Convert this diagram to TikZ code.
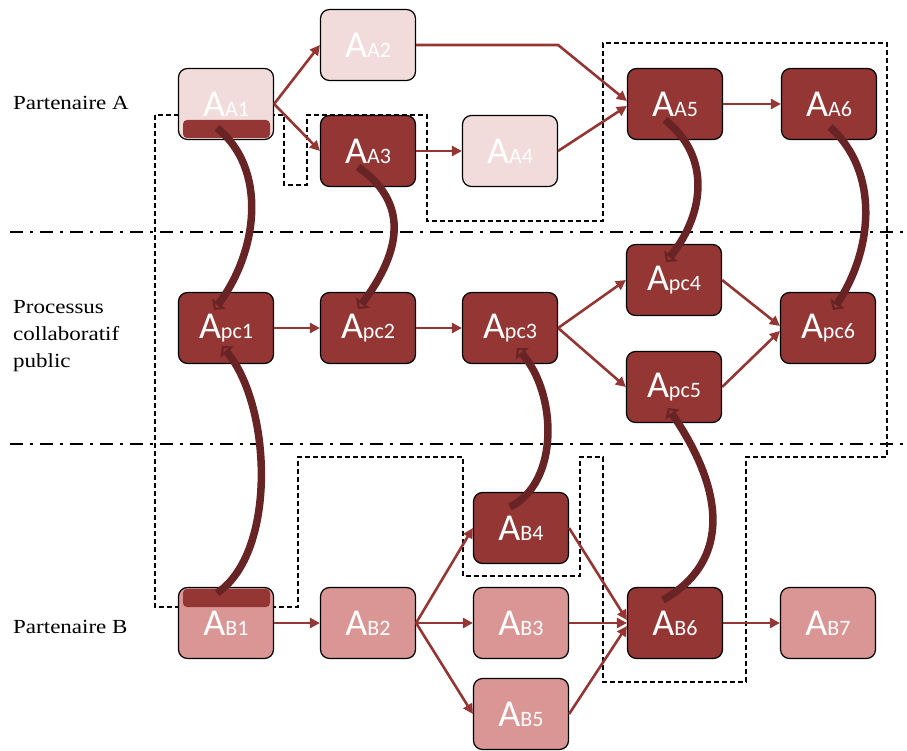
\documentclass[tikz,border=0pt]{standalone}
\usepackage{fontspec}
\setmainfont{Liberation Serif}
\newfontfamily\lanefont[FakeStretch=1.15]{Liberation Serif}
\newfontfamily\actfont{Carlito}
\usepackage{tikz}
\usetikzlibrary{arrows.meta}

\definecolor{actdark}{HTML}{943634}
\definecolor{actpale}{HTML}{F2DCDB}
\definecolor{actmid}{HTML}{D99694}
\definecolor{linkdark}{HTML}{682424}

\begin{document}
\begin{tikzpicture}[x=1pt,y=-1pt,
        act/.style={draw=black, line width=1.2pt, rounded corners=9pt, minimum width=95pt, minimum height=71pt, inner sep=0pt, text=white, font=\actfont},
        shared/.style={act, fill=actdark},
        privA/.style={act, fill=actpale},
        privB/.style={act, fill=actmid},
        flow/.style={draw=actdark, line width=2.6pt, -{Triangle[length=10pt,width=10pt]}},
        xlink/.style={draw=linkdark, line width=7.5pt, -{Triangle[open,length=8pt,width=17pt,line width=2.5pt]}},
        lanesep/.style={line width=2.6pt, dash pattern=on 13pt off 7pt on 3pt off 7pt},
        zone/.style={line width=1.2pt, dash pattern=on 5pt off 3pt},
        lane/.style={font=\lanefont\fontsize{20}{27}\selectfont, align=left, inner sep=0pt}]
        \useasboundingbox (0,0) rectangle (907,751);

        \newcommand\Act[1]{{\fontsize{38}{38}\selectfont A}{\fontsize{22}{22}\selectfont #1}}

        \draw[zone] (155,115) -- (155,607) -- (298,607) -- (298,457) -- (463,457) -- (463,576) -- (580,576) -- (580,457) -- (603,457) -- (603,682) -- (746,682) -- (746,457) -- (887,457) -- (887,43) -- (603,43) -- (603,221) -- (427,221) -- (427,115) -- (307,115) -- (307,185) -- (284,185) -- (284,115) -- cycle;

        \draw[lanesep] (10,232) -- (907,232);
        \draw[lanesep] (10,444) -- (907,444);

        \node[lane, anchor=base west] (la) at (13,110) {Partenaire A};
        \node[lane, anchor=west] (lpc) at (13,336) {Processus\\collaboratif\\public};
        \node[lane, anchor=base west] (lb) at (13,633) {Partenaire B};

        \node[privA] (a1) at (226,104) {\Act{A1}};
        \node[privA] (a2) at (368,45) {\Act{A2}};
        \node[shared] (a3) at (368,151) {\Act{A3}};
        \node[privA] (a4) at (510,151) {\Act{A4}};
        \node[shared] (a5) at (675,104) {\Act{A5}};
        \node[shared] (a6) at (829,104) {\Act{A6}};

        \node[shared] (pc1) at (226,328) {\Act{pc1}};
        \node[shared] (pc2) at (368,328) {\Act{pc2}};
        \node[shared] (pc3) at (510,328) {\Act{pc3}};
        \node[shared] (pc4) at (674,280) {\Act{pc4}};
        \node[shared] (pc5) at (674,387) {\Act{pc5}};
        \node[shared] (pc6) at (828,328) {\Act{pc6}};

        \node[privB] (b1) at (226,623) {\Act{B1}};
        \node[privB] (b2) at (368,623) {\Act{B2}};
        \node[privB] (b3) at (521,623) {\Act{B3}};
        \node[shared] (b4) at (521,528) {\Act{B4}};
        \node[privB] (b5) at (521,714) {\Act{B5}};
        \node[shared] (b6) at (675,623) {\Act{B6}};
        \node[privB] (b7) at (828,623) {\Act{B7}};

        \fill[actdark, rounded corners=4pt] (183,120) rectangle (270,138);
        \fill[actdark, rounded corners=4pt] (183,589) rectangle (270,607);

        \draw[flow] (a1.east) -- (a2.west);
        \draw[flow] (a1.east) -- (a3.west);
        \draw[flow] (a2.east) -- (a2.east -| a4.east) -- ([yshift=3pt]a5.west);
        \draw[flow] (a3) -- (a4);
        \draw[flow] (a4.east) -- ([yshift=-2pt]a5.west);
        \draw[flow] (a5) -- (a6);
        \draw[flow] (pc1) -- (pc2);
        \draw[flow] (pc2) -- (pc3);
        \draw[flow] (pc3.east) -- (pc4.west);
        \draw[flow] (pc3.east) -- (pc5.west);
        \draw[flow] (pc4.east) -- ([yshift=2pt]pc6.west);
        \draw[flow] (pc5.east) -- ([yshift=-3pt]pc6.west);
        \draw[flow] (b1) -- (b2);
        \draw[flow] (b2.east) -- (b4.west);
        \draw[flow] (b2) -- (b3);
        \draw[flow] (b2.east) -- (b5.west);
        \draw[flow] (b4.east) -- ([yshift=3pt]b6.west);
        \draw[flow] (b3) -- (b6);
        \draw[flow] (b5.east) -- ([yshift=-3pt]b6.west);
        \draw[flow] (b6) -- (b7);

        \draw[xlink] ([shift={(-9,24)}]a1.center) .. controls +(50,40) and +(45,-60) .. ([shift={(-12,-18)}]pc1.center);
        \draw[xlink] ([shift={(-10,16)}]a3.center) .. controls +(50,35) and +(45,-60) .. ([shift={(-10,-19)}]pc2.center);
        \draw[xlink] ([shift={(-10,16)}]a5.center) .. controls +(45,35) and +(40,-50) .. ([shift={(-8,-18)}]pc4.center);
        \draw[xlink] ([shift={(1,23)}]a6.center) .. controls +(50,45) and +(40,-60) .. ([shift={(5,-18)}]pc6.center);
        \draw[xlink] ([shift={(-9,-30)}]b1.center) .. controls +(60,-40) and +(50,60) .. ([shift={(-4,18)}]pc1.center);
        \draw[xlink] ([shift={(-11,-21)}]b4.center) .. controls +(50,-25) and +(40,45) .. ([shift={(7,20)}]pc3.center);
        \draw[xlink] ([shift={(-12,-23)}]b6.center) .. controls +(70,-40) and +(55,80) .. ([shift={(-6,21)}]pc5.center);
\end{tikzpicture}
\end{document}
